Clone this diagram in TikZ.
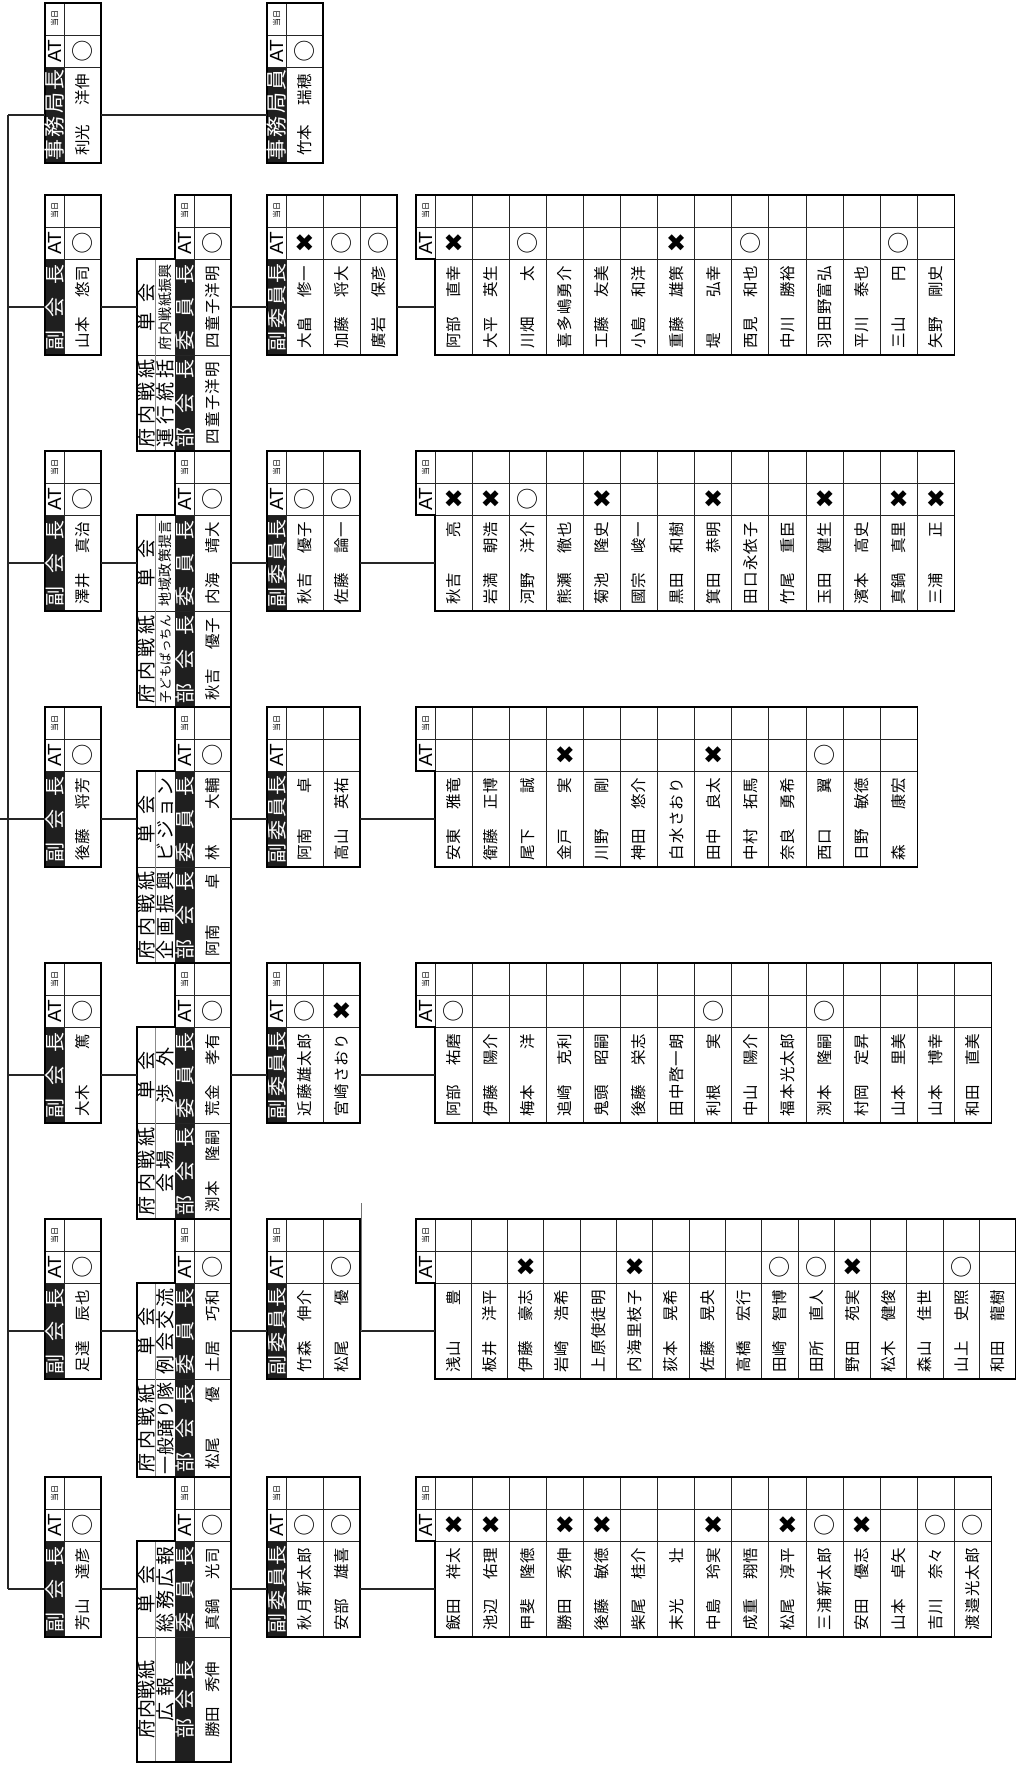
\documentclass[tikz,border=0pt]{standalone}
\usepackage{fontspec}
\newfontfamily\cjk{Noto Sans CJK JP}
\newfontfamily\lat{Liberation Sans}
\newfontfamily\sym{DejaVu Sans}
\newlength\nmw \setlength\nmw{82pt}
\makeatletter
\def\spr#1{\spr@a#1\@nil}
\def\spr@a#1#2\@nil{#1\def\spr@t{#2}\ifx\spr@t\@empty\else\hfill\expandafter\spr@a\spr@t\@nil\fi}
\makeatother
\newcommand\sprd[2]{\makebox[#1]{\spr{#2}}}
\newcommand\nm[2]{\makebox[\nmw]{#1\hfill#2}}
\newcommand\ns[1]{\makebox[\nmw]{\spr{#1}}}
\newcommand\mkO{○}
\newcommand\mkX{{\sym\fontsize{24}{24}\selectfont ✖}}
\newcommand\mkN{}
\newcommand\smallsz{\fontsize{14}{14}\selectfont}
\tikzset{
  grid/.style={draw=black!85, line width=0.9pt},
  frame/.style={draw=black, line width=1.3pt},
  hdrfill/.style={fill=black!88},
  divider/.style={draw=black!45, line width=0.6pt},
  conn/.style={draw=black!85, line width=1.3pt},
  nametxt/.style={rotate=90, inner sep=0pt, font=\cjk\fontsize{15.5}{15.5}\selectfont},
  hdrtxt/.style={rotate=90, inner sep=0pt, text=white, font=\cjk\fontsize{20}{20}\selectfont},
  smalltxt/.style={rotate=90, inner sep=0pt, font=\cjk\fontsize{8}{8}\selectfont},
  attxt/.style={rotate=90, inner sep=0pt, font=\lat\fontsize{19}{19}\selectfont},
  marktxt/.style={inner sep=0pt, font=\cjk\fontsize{22}{22}\selectfont},
  lbltxt/.style={rotate=90, inner sep=0pt, font=\cjk\fontsize{19}{19}\selectfont},
}
% level 1 box: id, x0, T, header, name, mark
\newcommand\lvone[6]{%
  \fill[hdrfill] (#2,#3+64) rectangle (#2+19,#3+160);
  \draw[grid] (#2+19,#3) -- (#2+19,#3+160) (#2,#3+32) -- (#2+56,#3+32) (#2,#3+64) -- (#2+56,#3+64);
  \draw[frame] (#2,#3) rectangle (#2+56,#3+160);
  \node[smalltxt] (#1-d) at (#2+9.5,#3+16) {当日};
  \node[attxt] (#1-a) at (#2+9.5,#3+48) {AT};
  \node[hdrtxt] (#1-h) at (#2+9.5,#3+112) {#4};
  \node[marktxt] (#1-m) at (#2+37.5,#3+48) {#6};
  \node[nametxt] (#1-n) at (#2+37.5,#3+112) {#5};
  \coordinate (#1-in) at (#2,#3+112);
  \coordinate (#1-out) at (#2+56,#3+112);
}
% level 2: id, T, B, up-line2, up-name, mark, low-line2, low-name, low spread
\newcommand\lvtwo[9]{%
  \fill[hdrfill] (175,#2+64) rectangle (194,#3);
  \draw[grid] (175,#2) rectangle (231,#2+32) (175,#2+32) rectangle (231,#2+64);
  \draw[grid] (137,#2+64) rectangle (231,#2+160) (137,#2+160) rectangle (231,#3);
  \draw[grid] (175,#2) -- (175,#3) (194,#2) -- (194,#3);
  \draw[divider] (155.5,#2+64) -- (155.5,#3);
  \draw[frame] (175,#2) -- (231,#2) -- (231,#3) -- (137,#3) -- (137,#2+64) -- (175,#2+64) -- cycle;
  \node[smalltxt] (#1-d) at (184.5,#2+16) {当日};
  \node[attxt] (#1-a) at (184.5,#2+48) {AT};
  \node[marktxt] (#1-m) at (212.5,#2+48) {#6};
  \node[hdrtxt] (#1-h) at (184.5,#2+112) {\sprd{86pt}{委員長}};
  \node[nametxt] (#1-n) at (212.5,#2+112) {#5};
  \node[lbltxt] (#1-l1) at (146.5,#2+112) {\sprd{48pt}{単会}};
  \node[lbltxt] (#1-l2) at (165.5,#2+112) {#4};
  \node[hdrtxt] (#1-h2) at (184.5,{(#2+160+#3)/2}) {\sprd{#9}{部会長}};
  \node[nametxt] (#1-n2) at (212.5,{(#2+160+#3)/2}) {#8};
  \node[lbltxt] (#1-k1) at (146.5,{(#2+160+#3)/2}) {\sprd{#9}{府内戦紙}};
  \node[lbltxt] (#1-k2) at (165.5,{(#2+160+#3)/2}) {#7};
  \coordinate (#1-in) at (137,#2+112);
  \coordinate (#1-out) at (231,#2+112);
}
% level 3: id, T, ncols, list
\newcommand\lvthree[4]{%
  \fill[hdrfill] (267,#2+64) rectangle (286,#2+160);
  \draw[grid] (267,#2+32) -- (286,#2+32) (267,#2+64) -- (286,#2+64);
  \node[smalltxt] (#1-d) at (276.5,#2+16) {当日};
  \node[attxt] (#1-a) at (276.5,#2+48) {AT};
  \node[hdrtxt] (#1-h) at (276.5,#2+112) {\sprd{88pt}{副委員長}};
  \foreach \nb/\mv [count=\i from 0] in {#4} {
    \pgfmathsetmacro\xa{286+37*\i}
    \draw[grid] (\xa,#2) rectangle ++(37,32) (\xa,#2+32) rectangle ++(37,32) (\xa,#2+64) rectangle ++(37,96);
    \node[marktxt] (#1-m\i) at (\xa+18.5,#2+48) {\mv};
    \node[nametxt] (#1-n\i) at (\xa+18.5,#2+112) {\nb};
  }
  \draw[frame] (267,#2) rectangle (286+37*#3,#2+160);
  \coordinate (#1-in) at (267,#2+112);
  \coordinate (#1-out) at (286+37*#3,#2+112);
}
% level 4: id, T, width, ncols, list
\newcommand\lvfour[5]{%
  \draw[grid] (416,#2+32) -- (435,#2+32) (435,#2) -- (435,#2+64);
  \node[smalltxt] (#1-d) at (425.5,#2+16) {当日};
  \node[attxt] (#1-a) at (425.5,#2+48) {AT};
  \foreach \nb/\mv [count=\i from 0] in {#5} {
    \pgfmathsetmacro\xa{435+#3*\i}
    \draw[grid] (\xa,#2) rectangle ++(#3,32) (\xa,#2+32) rectangle ++(#3,32) (\xa,#2+64) rectangle ++(#3,96);
    \node[marktxt] (#1-m\i) at (\xa+#3/2,#2+48) {\mv};
    \node[nametxt] (#1-n\i) at (\xa+#3/2,#2+112) {\nb};
  }
  \draw[frame] (416,#2) -- (435+#3*#4,#2) -- (435+#3*#4,#2+160) -- (435,#2+160) -- (435,#2+64) -- (416,#2+64) -- cycle;
  \coordinate (#1-in) at (435,#2+112);
}
\begin{document}
\begin{tikzpicture}[x=1pt,y=-1pt]
\path[use as bounding box, fill=white] (0,0) rectangle (1025,1768);

% ---- top row
\lvone{jkc}{45}{3}{{\fontsize{21}{21}\selectfont\sprd{92pt}{事務局長}}}{\nm{利光}{洋伸}}{\mkO}
\lvone{jki}{267}{3}{{\fontsize{21}{21}\selectfont\sprd{92pt}{事務局員}}}{\nm{竹本}{瑞穂}}{\mkO}

% ---- level 1
\lvone{a1}{45}{195}{\sprd{86pt}{副会長}}{\nm{山本}{悠司}}{\mkO}
\lvone{a2}{45}{451}{\sprd{86pt}{副会長}}{\nm{澤井}{真治}}{\mkO}
\lvone{a3}{45}{707}{\sprd{86pt}{副会長}}{\nm{後藤}{将芳}}{\mkO}
\lvone{a4}{45}{963}{\sprd{86pt}{副会長}}{\nm{大木}{篤}}{\mkO}
\lvone{a5}{45}{1219}{\sprd{86pt}{副会長}}{\nm{足達}{辰也}}{\mkO}
\lvone{a6}{45}{1477}{\sprd{86pt}{副会長}}{\nm{芳山}{達彦}}{\mkO}

% ---- level 2
\lvtwo{b1}{195}{451}{{\smallsz\sprd{86pt}{府内戦紙振興}}}{\ns{四童子洋明}}{\mkO}{\sprd{88pt}{運行統括}}{\ns{四童子洋明}}{88pt}
\lvtwo{b2}{451}{707}{{\smallsz\sprd{86pt}{地域政策提言}}}{\nm{内海}{靖大}}{\mkO}{{\fontsize{12.5}{12.5}\selectfont\sprd{88pt}{子どもぱっちん}}}{\nm{秋吉}{優子}}{88pt}
\lvtwo{b3}{707}{963}{\sprd{84pt}{ビジョン}}{\nm{林}{大輔}}{\mkO}{\sprd{88pt}{企画振興}}{\nm{阿南}{卓}}{88pt}
\lvtwo{b4}{963}{1219}{\sprd{56pt}{渉外}}{\nm{荒金}{孝有}}{\mkO}{\sprd{42pt}{会場}}{\nm{渕本}{隆嗣}}{88pt}
\lvtwo{b5}{1219}{1477}{\sprd{86pt}{例会交流}}{\nm{土居}{巧和}}{\mkO}{{\fontsize{18}{18}\selectfont\sprd{92pt}{一般踊り隊}}}{\nm{松尾}{優}}{88pt}
\lvtwo{b6}{1477}{1762}{\sprd{86pt}{総務広報}}{\nm{真鍋}{光司}}{\mkO}{\sprd{44pt}{広報}}{\makebox[76pt]{勝田\hfill 秀伸}}{78pt}

% ---- level 3
\lvthree{c1}{195}{3}{\nm{大畠}{修一}/\mkX, \nm{加藤}{将大}/\mkO, \nm{廣岩}{保彦}/\mkO}
\lvthree{c2}{451}{2}{\nm{秋吉}{優子}/\mkO, \nm{佐藤}{論一}/\mkO}
\lvthree{c3}{707}{2}{\nm{阿南}{卓}/\mkN, \nm{高山}{英祐}/\mkN}
\lvthree{c4}{963}{2}{\ns{近藤雄太郎}/\mkO, \ns{宮崎さおり}/\mkX}
\lvthree{c5}{1219}{2}{\nm{竹森}{伸介}/\mkN, \nm{松尾}{優}/\mkO}
\lvthree{c6}{1477}{2}{\ns{秋月新太郎}/\mkO, \nm{安部}{雄喜}/\mkO}

% ---- level 4
\lvfour{d1}{195}{37.1}{14}{\nm{阿部}{直幸}/\mkX, \nm{大平}{英生}/\mkN, \nm{川畑}{太}/\mkO, \ns{喜多嶋勇介}/\mkN, \nm{工藤}{友美}/\mkN, \nm{小島}{和洋}/\mkN, \nm{重藤}{雄策}/\mkX, \nm{堤}{弘幸}/\mkN, \nm{西見}{和也}/\mkO, \nm{中川}{勝裕}/\mkN, \ns{羽田野富弘}/\mkN, \nm{平川}{泰也}/\mkN, \nm{三山}{円}/\mkO, \nm{矢野}{剛史}/\mkN}
\lvfour{d2}{451}{37.1}{14}{\nm{秋吉}{亮}/\mkX, \nm{岩満}{朝浩}/\mkX, \nm{河野}{洋介}/\mkO, \nm{熊瀬}{徹也}/\mkN, \nm{菊池}{隆史}/\mkX, \nm{國宗}{峻一}/\mkN, \nm{黒田}{和樹}/\mkN, \nm{箕田}{恭明}/\mkX, \ns{田口永依子}/\mkN, \nm{竹尾}{重臣}/\mkN, \nm{玉田}{健生}/\mkX, \nm{濱本}{高史}/\mkN, \nm{真鍋}{真里}/\mkX, \nm{三浦}{正}/\mkX}
\lvfour{d3}{707}{37.1}{13}{\nm{安東}{雅竜}/\mkN, \nm{衛藤}{正博}/\mkN, \nm{尾下}{誠}/\mkN, \nm{金戸}{実}/\mkX, \nm{川野}{剛}/\mkN, \nm{神田}{悠介}/\mkN, \ns{白水さおり}/\mkN, \nm{田中}{良太}/\mkX, \nm{中村}{拓馬}/\mkN, \nm{奈良}{勇希}/\mkN, \nm{西口}{翼}/\mkO, \nm{日野}{敏徳}/\mkN, \nm{森}{康宏}/\mkN}
\lvfour{d4}{963}{37.1}{15}{\nm{阿部}{祐磨}/\mkO, \nm{伊藤}{陽介}/\mkN, \nm{梅本}{洋}/\mkN, \nm{追崎}{克利}/\mkN, \nm{鬼頭}{昭嗣}/\mkN, \nm{後藤}{栄志}/\mkN, \ns{田中啓一朗}/\mkN, \nm{利根}{実}/\mkO, \nm{中山}{陽介}/\mkN, \ns{福本光太郎}/\mkN, \nm{渕本}{隆嗣}/\mkO, \nm{村岡}{定昇}/\mkN, \nm{山本}{里美}/\mkN, \nm{山本}{博幸}/\mkN, \nm{和田}{直美}/\mkN}
\lvfour{d5}{1219}{36.3}{16}{\nm{浅山}{豊}/\mkN, \nm{板井}{洋平}/\mkN, \nm{伊藤}{豪志}/\mkX, \nm{岩崎}{浩希}/\mkN, \ns{上原使徒明}/\mkN, \ns{内海里枝子}/\mkX, \nm{荻本}{晃希}/\mkN, \nm{佐藤}{晃央}/\mkN, \nm{高橋}{宏行}/\mkN, \nm{田崎}{智博}/\mkO, \nm{田所}{直人}/\mkO, \nm{野田}{苑実}/\mkX, \nm{松木}{健俊}/\mkN, \nm{森山}{佳世}/\mkN, \nm{山上}{史照}/\mkO, \nm{和田}{龍樹}/\mkN}
\lvfour{d6}{1477}{37.1}{15}{\nm{飯田}{祥太}/\mkX, \nm{池辺}{佑理}/\mkX, \nm{甲斐}{隆徳}/\mkN, \nm{勝田}{秀伸}/\mkX, \nm{後藤}{敏徳}/\mkX, \nm{柴尾}{桂介}/\mkN, \nm{末光}{壮}/\mkN, \nm{中島}{玲実}/\mkX, \nm{成重}{翔悟}/\mkN, \nm{松尾}{淳平}/\mkX, \ns{三浦新太郎}/\mkO, \nm{安田}{優志}/\mkX, \nm{山本}{卓矢}/\mkN, \nm{吉川}{奈々}/\mkO, \ns{渡邉光太郎}/\mkO}

% ---- connectors
\coordinate (trtop) at (8,115);
\coordinate (par) at (0,819);
\coordinate (stray) at (361,1203);
\draw[conn] (trtop) -- (trtop |- a6-in);
\draw[conn] (trtop) -- (jkc-in);
\draw[conn] (jkc-out) -- (jki-in);
\draw[conn] (par) -- (trtop |- a3-in);
\foreach \g in {1,...,6} {
  \draw[conn] (trtop |- a\g-in) -- (a\g-in);
  \draw[conn] (a\g-out) -- (b\g-in);
  \draw[conn] (b\g-out) -- (c\g-in);
  \draw[conn] (c\g-out) -- (d\g-in);
}
\draw[draw=black!55, line width=0.6pt] (stray) -- (stray |- c5-out);
\end{tikzpicture}
\end{document}
